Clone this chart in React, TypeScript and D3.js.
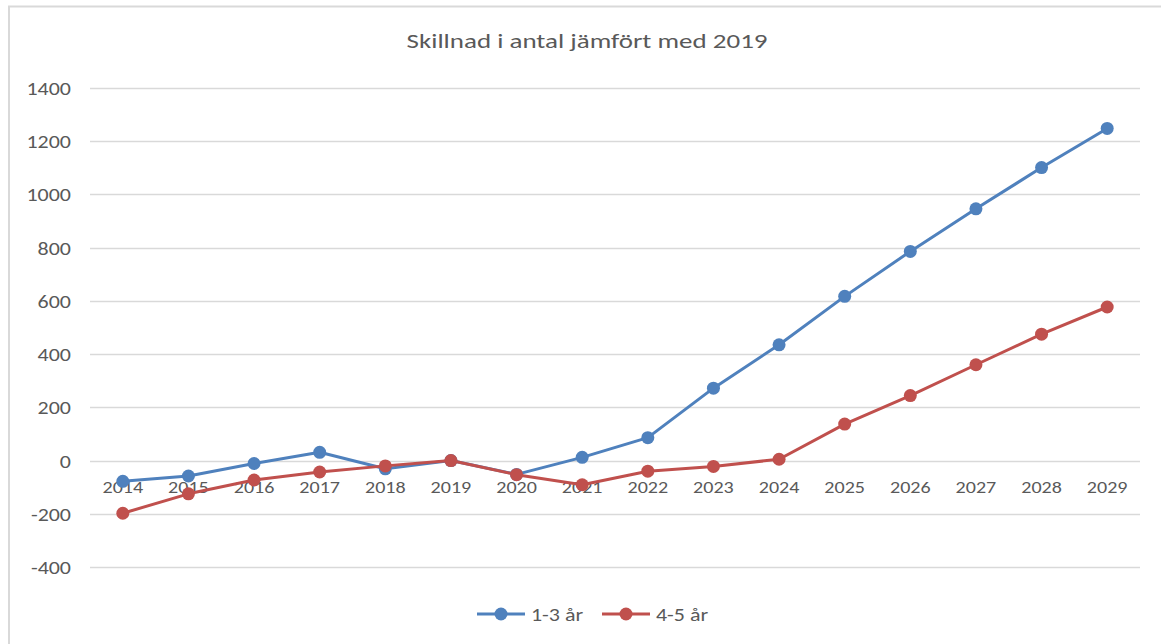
import React, { useEffect, useRef } from 'react';
import * as d3 from 'd3';

const years = ['2014', '2015', '2016', '2017', '2018', '2019', '2020', '2021', '2022', '2023', '2024', '2025', '2026', '2027', '2028', '2029'];
const young = [-78, -58, -11, 31, -31, 0, -52, 12, 86, 272, 435, 617, 786, 946, 1101, 1248];
const older = [-198, -125, -73, -43, -20, 0, -53, -91, -40, -22, 5, 137, 244, 360, 475, 577];
const yTicks = [-400, -200, 0, 200, 400, 600, 800, 1000, 1200, 1400];
const seriesNames = ['1-3 år', '4-5 år'];
const colors = ['#4f81bd', '#c0504d'];

const W = 1161;
const H = 644;
const font = 'Carlito, Calibri, "Liberation Sans", sans-serif';

export default function App() {
  const ref = useRef<SVGSVGElement>(null);

  useEffect(() => {
    const svg = d3.select(ref.current);
    svg.selectAll('*').remove();

    // the source image is a bit stretched sideways, so text gets a scaleX
    const label = (g: any, x: number, y: number, txt: string, size: number, sx: number, anchor: string) =>
      g.append('text')
        .attr('transform', `translate(${x},${y}) scale(${sx},1)`)
        .attr('text-anchor', anchor)
        .attr('font-family', font).attr('font-size', size)
        .attr('fill', '#595959')
        .text(txt);

    // outer chart border (only top and left are inside the picture)
    svg.append('rect')
      .attr('x', 9).attr('y', 6.5)
      .attr('width', W + 20).attr('height', H + 20)
      .attr('fill', 'white')
      .attr('stroke', '#d9d9d9').attr('stroke-width', 2);

    const left = 90, right = 1140;
    const x = d3.scaleBand().domain(years).range([left, right]);
    const y = d3.scaleLinear().domain([-400, 1400]).range([567, 88]);

    label(svg, 587, 48, 'Skillnad i antal jämfört med 2019', 20, 1.35, 'middle');

    // gridlines
    svg.append('g').selectAll('line').data(yTicks).enter().append('line')
      .attr('x1', left).attr('x2', right)
      .attr('y1', d => Math.round(y(d)) + 0.5).attr('y2', d => Math.round(y(d)) + 0.5)
      .attr('stroke', '#d9d9d9').attr('stroke-width', 1.5);

    const yg = svg.append('g');
    yTicks.forEach(t => label(yg, 71, y(t) + 7, String(t), 18, 1.22, 'end'));

    // category labels sit just under the zero line
    const xg = svg.append('g');
    years.forEach(yr => label(xg, x(yr)! + x.bandwidth() / 2, y(0) + 32, yr, 17, 1.18, 'middle'));

    const line = d3.line<number>()
      .x((d, i) => x(years[i])! + x.bandwidth() / 2)
      .y(d => y(d));

    [young, older].forEach((vals, s) => {
      const g = svg.append('g');
      g.append('path')
        .attr('d', line(vals))
        .attr('fill', 'none')
        .attr('stroke', colors[s]).attr('stroke-width', 3)
        .attr('stroke-linejoin', 'round');
      g.selectAll('circle').data(vals).enter().append('circle')
        .attr('cx', (d, i) => x(years[i])! + x.bandwidth() / 2)
        .attr('cy', d => y(d))
        .attr('r', 6.5)
        .attr('fill', colors[s]);
    });

    // legend
    const legendX = [477, 602];
    seriesNames.forEach((name, s) => {
      const g = svg.append('g').attr('transform', `translate(${legendX[s]},614)`);
      g.append('line').attr('x1', 0).attr('x2', 48).attr('y1', 0).attr('y2', 0)
        .attr('stroke', colors[s]).attr('stroke-width', 3);
      g.append('circle').attr('cx', 24).attr('cy', 0).attr('r', 6.5).attr('fill', colors[s]);
      label(g, 54, 7, name, 18, 1.22, 'start');
    });
  }, []);

  return (
    <svg ref={ref} width={W} height={H}
      style={{ position: 'absolute', left: 0, top: 0, background: 'white' }} />
  );
}
